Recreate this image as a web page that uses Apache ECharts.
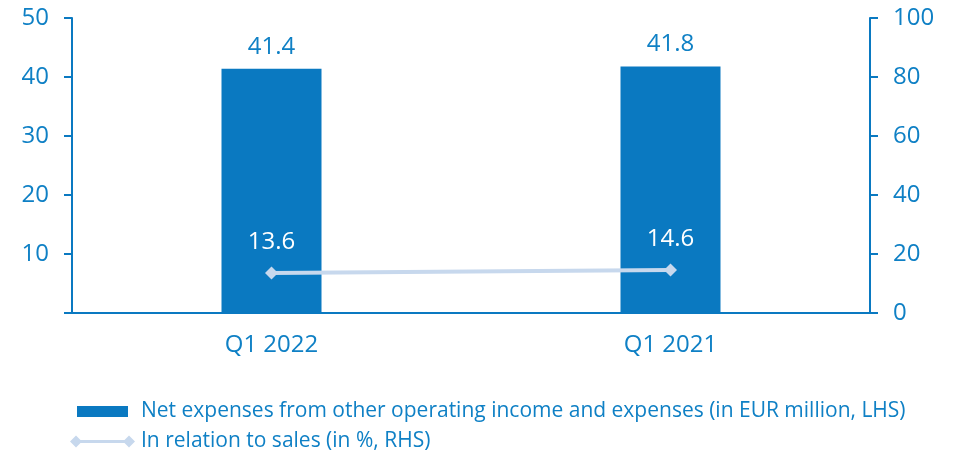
<!DOCTYPE html>
<html><head><meta charset="utf-8">
<script src="https://cdn.jsdelivr.net/npm/echarts@6/dist/echarts.min.js"></script>
<style>html,body{margin:0;padding:0;background:#fff}#c{width:957px;height:452px}</style>
</head><body><div id="c"></div>
<script>
const categories = ['Q1 2022', 'Q1 2021'];
const expenses = [41.4, 41.8];
const salesPct = [13.6, 14.6];
const barName = 'Net expenses from other operating income and expenses (in EUR million, LHS)';
const lineName = 'In relation to sales (in %, RHS)';
const blue = '#0a79c1';
const textBlue = '#0f80c5';
const light = '#c7d8ed';
const font = '"Open Sans", "Noto Sans", sans-serif';
const chart = echarts.init(document.getElementById('c'), null, {renderer: 'canvas'});
chart.setOption({
  animation: false,
  textStyle: {fontFamily: font},
  grid: {left: 72, right: 87, top: 18, bottom: 139},
  legend: [{
    left: 72, top: 396, orient: 'vertical', itemWidth: 51, itemHeight: 11,
    data: [{name: barName, icon: 'rect'}],
    textStyle: {color: textBlue, fontSize: 21, fontFamily: font, padding: [0, 0, 0, 8]}
  }, {
    left: 65, top: 426, orient: 'vertical', itemWidth: 65, itemHeight: 12,
    data: [{name: lineName, icon: 'path://M0,6L6,0L12,6L6,12ZM6,4.5L59,4.5L59,7.5L6,7.5ZM53,6L59,0L65,6L59,12Z', itemStyle: {color: light}}],
    textStyle: {color: textBlue, fontSize: 21, fontFamily: font, padding: [0, 0, 0, 1]}
  }],
  xAxis: {
    type: 'category', data: categories,
    axisLine: {lineStyle: {color: blue, width: 2}},
    axisTick: {show: false},
    axisLabel: {color: textBlue, fontSize: 24, margin: 20, fontFamily: font}
  },
  yAxis: [{
    type: 'value', min: 0, max: 50, interval: 10, position: 'left',
    axisLine: {show: true, lineStyle: {color: blue, width: 2}},
    axisTick: {show: true, length: 8, lineStyle: {color: blue, width: 2}},
    splitLine: {show: false},
    axisLabel: {color: textBlue, fontSize: 24, margin: 23, fontFamily: font,
      formatter: v => v === 0 ? '' : v}
  }, {
    type: 'value', min: 0, max: 100, interval: 20, position: 'right',
    axisLine: {show: true, lineStyle: {color: blue, width: 2}},
    axisTick: {show: true, length: 8, lineStyle: {color: blue, width: 2}},
    splitLine: {show: false},
    axisLabel: {color: textBlue, fontSize: 24, margin: 23, fontFamily: font}
  }],
  series: [{
    name: barName, type: 'bar', data: expenses, barWidth: 100, yAxisIndex: 0,
    itemStyle: {color: blue},
    label: {show: true, position: 'top', distance: 10, color: textBlue, fontSize: 24, fontFamily: font}
  }, {
    name: lineName, type: 'line', data: salesPct, yAxisIndex: 1,
    symbol: 'diamond', symbolSize: 13,
    lineStyle: {color: light, width: 4},
    itemStyle: {color: light},
    label: {show: true, position: 'top', distance: 12, color: '#ffffff', fontSize: 24, fontFamily: font}
  }]
});
</script></body></html>
